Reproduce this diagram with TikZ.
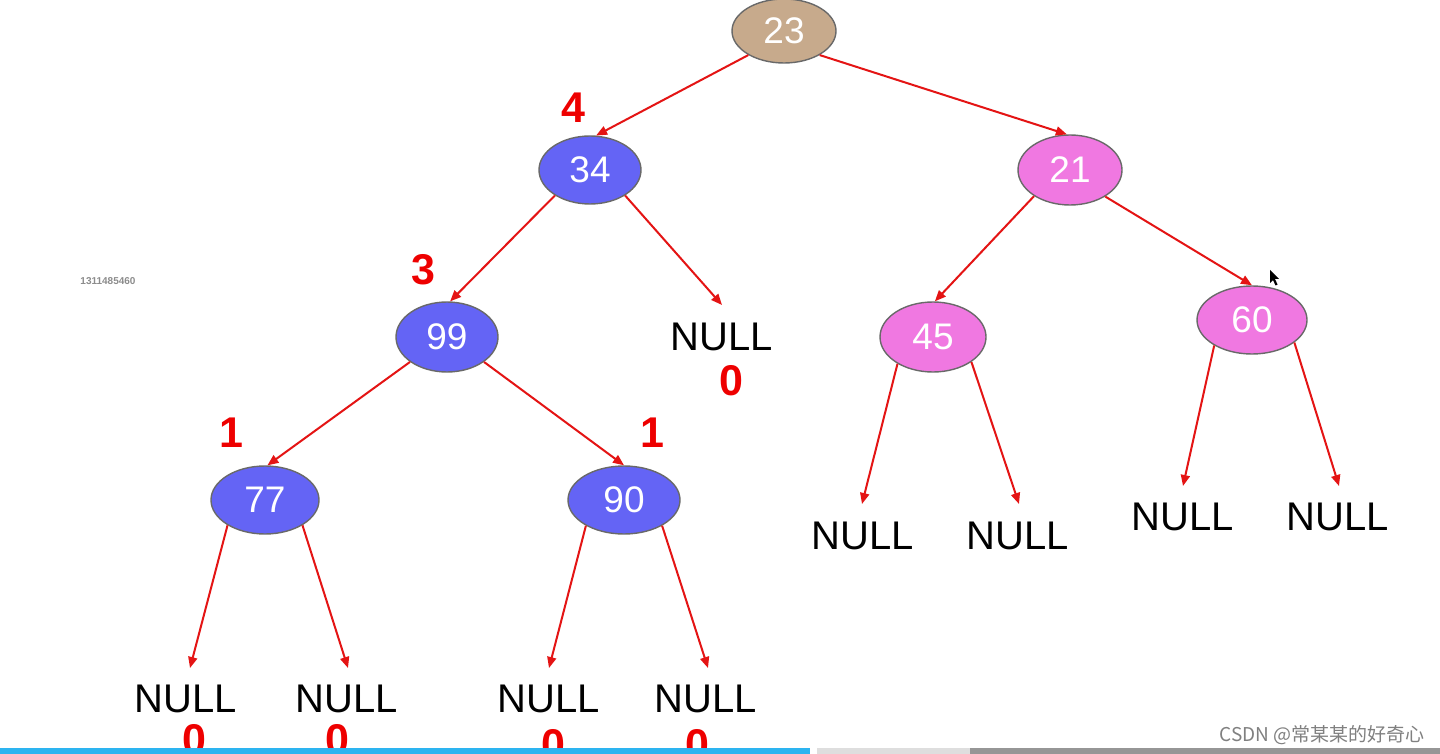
\documentclass[tikz,border=0pt]{standalone}
\usepackage{fontspec}
\setmainfont{Liberation Sans}
\newfontfamily\cjkfont{Noto Sans CJK SC}
\usetikzlibrary{shapes.geometric,arrows.meta}
\definecolor{tanfill}{RGB}{199,170,140}
\definecolor{bluefill}{RGB}{100,100,245}
\definecolor{pinkfill}{RGB}{240,120,225}
\definecolor{edgegray}{RGB}{105,105,105}
\definecolor{arrowred}{RGB}{228,20,20}
\definecolor{labelred}{RGB}{238,0,0}
\definecolor{barblue}{RGB}{45,180,240}
\definecolor{barlight}{RGB}{222,222,222}
\definecolor{bardark}{RGB}{150,150,150}
\tikzset{
  treenode/.style={ellipse, draw=edgegray, line width=0.7pt, inner sep=0pt,
    minimum width=52pt, minimum height=34pt, text=white, font=\fontsize{18.5}{18.5}\selectfont},
  tannode/.style={treenode, fill=tanfill},
  bluenode/.style={treenode, fill=bluefill},
  pinknode/.style={treenode, fill=pinkfill},
  nulltext/.style={inner sep=0pt, font=\fontsize{20}{20}\selectfont, text=black},
  redlabel/.style={inner sep=0pt, font=\bfseries\fontsize{21.5}{21.5}\selectfont, text=labelred},
  link/.style={draw=arrowred, line width=1pt, -{Triangle[length=5.5pt,width=4.5pt]}}
}
\begin{document}
\begin{tikzpicture}[x=0.5pt,y=-0.5pt]
\useasboundingbox (0,0) rectangle (1440,754);
\fill[white] (0,0) rectangle (1440,754);

% tree nodes
\node[tannode, minimum width=52pt, minimum height=32pt] (n23) at (784,31) {23};
\node[bluenode, minimum width=51pt] (n34) at (590,170) {34};
\node[pinknode, minimum width=52pt, minimum height=35pt] (n21) at (1070,170) {21};
\node[bluenode, minimum width=51pt, minimum height=35pt] (n99) at (447,337) {99};
\node[pinknode, minimum width=53pt, minimum height=35pt] (n45) at (933,337) {45};
\node[pinknode, minimum width=55pt] (n60) at (1252,320) {60};
\node[bluenode, minimum width=54pt] (n77) at (265,500) {77};
\node[bluenode, minimum width=56pt] (n90) at (624,500) {90};

% NULL leaves
\node[nulltext] (u34) at (722,337) {NULL};
\node[nulltext] (u45a) at (863,536) {NULL};
\node[nulltext] (u45b) at (1018,536) {NULL};
\node[nulltext] (u60a) at (1183,517) {NULL};
\node[nulltext] (u60b) at (1338,517) {NULL};
\node[nulltext] (u77a) at (186,699) {NULL};
\node[nulltext] (u77b) at (347,699) {NULL};
\node[nulltext] (u90a) at (549,699) {NULL};
\node[nulltext] (u90b) at (706,699) {NULL};

% arrow tips above NULL leaves
\coordinate (t34) at (722,305);
\coordinate (t45a) at (862,504);
\coordinate (t45b) at (1019,504);
\coordinate (t60a) at (1183,486);
\coordinate (t60b) at (1339,486);
\coordinate (t77a) at (190,668);
\coordinate (t77b) at (348,668);
\coordinate (t90a) at (549,668);
\coordinate (t90b) at (708,668);

% connectors
\draw[link] (n23.214) -- (n34.80);
\draw[link] (n23.326) -- (n21.95);
\draw[link] (n34.216) -- (n99.85);
\draw[link] (n34.324) -- (t34);
\draw[link] (n21.216) -- (n45.87);
\draw[link] (n21.323) -- (n60.90);
\draw[link] (n99.214) -- (n77.86);
\draw[link] (n99.326) -- (n90.90);
\draw[link] (n45.217) -- (t45a);
\draw[link] (n45.327) -- (t45b);
\draw[link] (n60.214) -- (t60a);
\draw[link] (n60.332) -- (t60b);
\draw[link] (n77.214) -- (t77a);
\draw[link] (n77.326) -- (t77b);
\draw[link] (n90.214) -- (t90a);
\draw[link] (n90.326) -- (t90b);

% red height labels
\node[redlabel] (h34) at (573,108) {4};
\node[redlabel] (h99) at (423,270) {3};
\node[redlabel] (h77) at (231,433) {1};
\node[redlabel] (h90) at (652,433) {1};
\node[redlabel] (z34) at (731,381) {0};
\node[redlabel] (z77a) at (194,740) {0};
\node[redlabel] (z77b) at (337,740) {0};
\node[redlabel] (z90a) at (553,745) {0};
\node[redlabel] (z90b) at (697,745) {0};

% small gray number
\node[inner sep=0pt, text=black!45, font=\bfseries\fontsize{5}{5}\selectfont] (num) at (108,281) {1311485460};

% mouse cursor
\fill[black] (1270,270) -- (1270,283) -- (1273,280) -- (1275.5,285.5) -- (1277.5,284.5) -- (1275,279) -- (1279,279) -- cycle;

% bottom bar
\fill[barblue] (0,748) rectangle (810,754);
\fill[barlight] (817,748) rectangle (970,754);
\fill[bardark] (970,748) rectangle (1440,754);

% watermark
\node[inner sep=0pt, anchor=east, text=black!50, font=\cjkfont\fontsize{9.5}{9.5}\selectfont] (wm) at (1425,735) {CSDN @常某某的好奇心};
\end{tikzpicture}
\end{document}
